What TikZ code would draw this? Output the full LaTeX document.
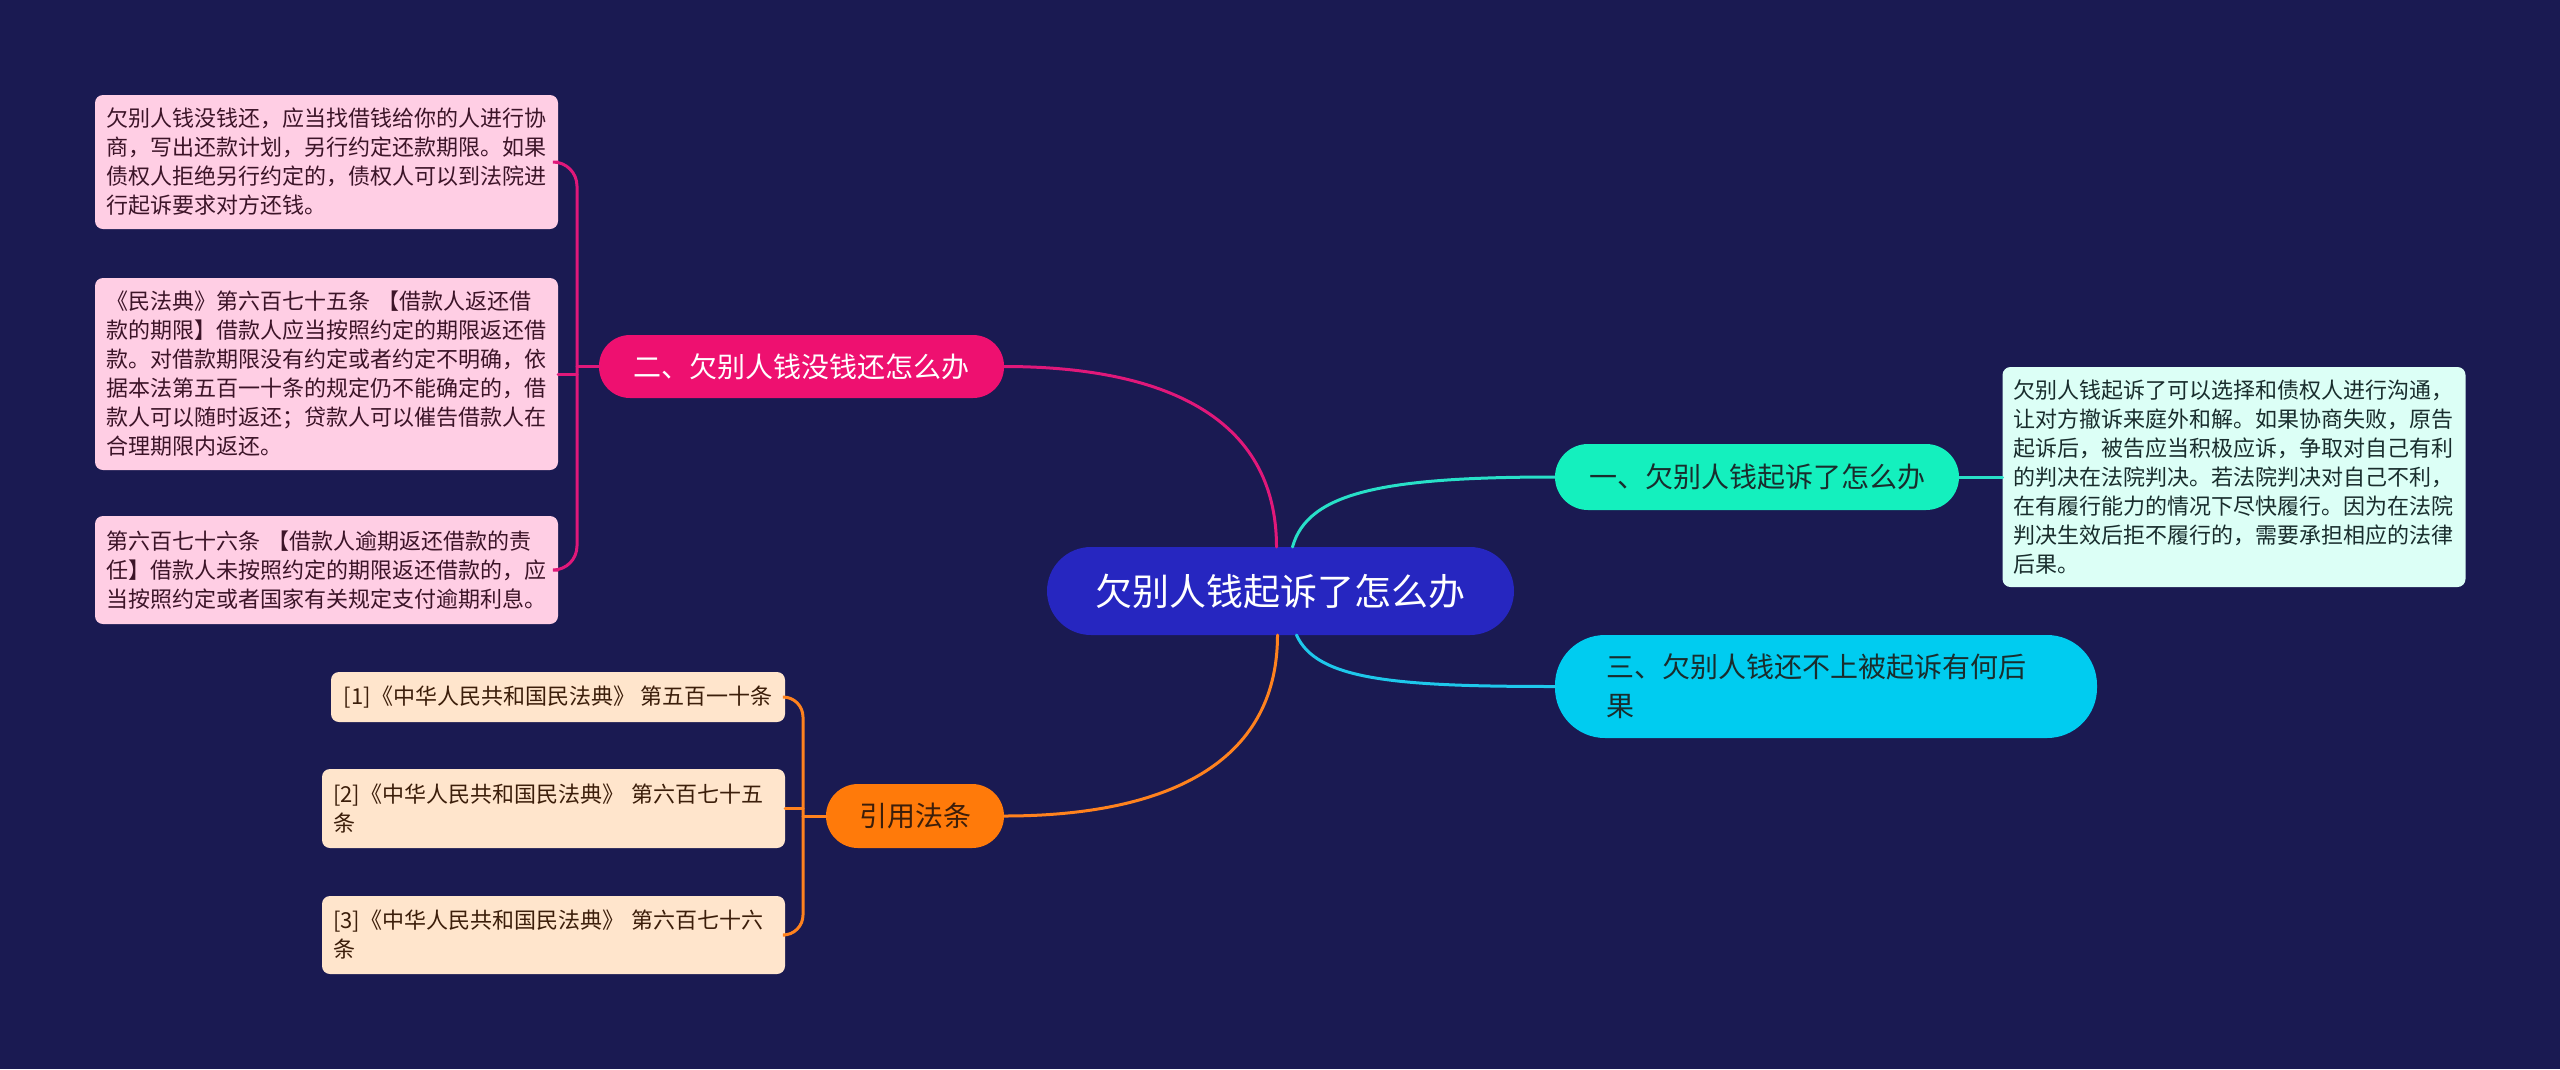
\documentclass[tikz,border=0pt]{standalone}
\usepackage{fontspec}
\setmainfont{Noto Sans CJK SC}
\definecolor{bg}{RGB}{26,26,82}
\definecolor{cMain}{RGB}{38,38,192}
\definecolor{cPink}{RGB}{238,16,112}
\definecolor{lPink}{RGB}{224,24,122}
\definecolor{bPink}{RGB}{255,206,228}
\definecolor{tPink}{RGB}{60,20,40}
\definecolor{cTeal}{RGB}{20,240,190}
\definecolor{lTeal}{RGB}{40,224,200}
\definecolor{bMint}{RGB}{220,255,246}
\definecolor{tDark}{RGB}{25,45,45}
\definecolor{cCyan}{RGB}{0,204,240}
\definecolor{lCyan}{RGB}{30,200,235}
\definecolor{cOrange}{RGB}{255,122,10}
\definecolor{lOrange}{RGB}{255,130,30}
\definecolor{bPeach}{RGB}{255,229,204}
\definecolor{tBrown}{RGB}{60,30,10}
\begin{document}
\begin{tikzpicture}[x=1pt,y=-1pt,
  every node/.style={inner sep=0pt, outer sep=0pt},
  bigfont/.style={font=\fontsize{37}{44}\selectfont},
  midfont/.style={font=\fontsize{28}{39}\selectfont},
  smallfont/.style={font=\fontsize{22}{29}\selectfont},
  textbox/.style={smallfont, rounded corners=8pt, align=left, inner xsep=11pt},
  conn/.style={line width=3pt, line cap=round},
]
\fill[bg] (0,0) rectangle (2560,1069);
\useasboundingbox (0,0) rectangle (2560,1069);

% main node
\node[fill=cMain, minimum width=467pt, minimum height=88pt, rounded corners=44pt, text=white, bigfont] (c) at (1280.5,591) {欠别人钱起诉了怎么办};

% first-level nodes
\node[fill=cTeal, minimum width=404pt, minimum height=66pt, rounded corners=33pt, text=tDark, midfont] (n1) at (1757,477) {一、欠别人钱起诉了怎么办};
\node[fill=cCyan, minimum width=542pt, minimum height=103pt, rounded corners=50pt, text=tDark, midfont, text width=440pt, align=left] (n3) at (1826,686.5) {三、欠别人钱还不上被起诉有何后\\果};
\node[fill=cPink, minimum width=405pt, minimum height=63pt, rounded corners=31pt, text=white, midfont] (n2) at (801.5,366.5) {二、欠别人钱没钱还怎么办};
\node[fill=cOrange, minimum width=178pt, minimum height=64pt, rounded corners=32pt, text=tBrown, midfont] (n4) at (915,816) {引用法条};

% detail right
\node[textbox, fill=bMint, text=tDark, text width=441pt, minimum height=220pt] (d1) at (2234,477) {欠别人钱起诉了可以选择和债权人进行沟通，\\让对方撤诉来庭外和解。如果协商失败，原告\\起诉后，被告应当积极应诉，争取对自己有利\\的判决在法院判决。若法院判决对自己不利，\\在有履行能力的情况下尽快履行。因为在法院\\判决生效后拒不履行的，需要承担相应的法律\\后果。};

% pink boxes
\node[textbox, fill=bPink, text=tPink, text width=441pt, minimum height=134pt] (p1) at (326.5,162) {欠别人钱没钱还，应当找借钱给你的人进行协\\商，写出还款计划，另行约定还款期限。如果\\债权人拒绝另行约定的，债权人可以到法院进\\行起诉要求对方还钱。};
\node[textbox, fill=bPink, text=tPink, text width=441pt, minimum height=192pt] (p2) at (326.5,374) {《民法典》第六百七十五条 【借款人返还借\\款的期限】借款人应当按照约定的期限返还借\\款。对借款期限没有约定或者约定不明确，依\\据本法第五百一十条的规定仍不能确定的，借\\款人可以随时返还；贷款人可以催告借款人在\\合理期限内返还。};
\node[textbox, fill=bPink, text=tPink, text width=441pt, minimum height=108pt] (p3) at (326.5,570) {第六百七十六条 【借款人逾期返还借款的责\\任】借款人未按照约定的期限返还借款的，应\\当按照约定或者国家有关规定支付逾期利息。};

% reference boxes
\node[smallfont, rounded corners=8pt, fill=bPeach, text=tBrown, minimum width=454pt, minimum height=50pt] (r1) at (558,697) {[1]《中华人民共和国民法典》 第五百一十条};
\node[textbox, fill=bPeach, text=tBrown, text width=441pt, minimum height=79pt] (r2) at (553.5,808.5) {[2]《中华人民共和国民法典》 第六百七十五\\条};
\node[textbox, fill=bPeach, text=tBrown, text width=441pt, minimum height=78pt] (r3) at (553.5,935) {[3]《中华人民共和国民法典》 第六百七十六\\条};

% connectors from main
\draw[conn, lPink] ([xshift=-4pt]c.north) .. controls +(0,-130) and +(160,0) .. (n2.east);
\draw[conn, lTeal] ([xshift=12pt]c.north) .. controls +(15,-55) and +(-170,0) .. (n1.west);
\draw[conn, lCyan] ([xshift=16pt]c.south) .. controls +(20,45) and +(-160,0) .. (n3.west);
\draw[conn, lOrange] ([xshift=-3pt]c.south) .. controls +(0,130) and +(160,0) .. (n4.east);

% teal to detail
\draw[conn, lTeal] (n1.east) -- (d1.west);

% pink bracket
\coordinate (pb) at (577,366.5);
\draw[conn, lPink] (n2.west) -- (pb);
\draw[conn, lPink, rounded corners=24pt] (p1.east) -| (pb) |- (p3.east);
\draw[conn, lPink] (p2.east) -- (p2.east -| pb);

% orange bracket
\coordinate (ob) at (803,816);
\draw[conn, lOrange] (n4.west) -- (ob);
\draw[conn, lOrange, rounded corners=20pt] (r1.east) -| (ob) |- (r3.east);
\draw[conn, lOrange] (r2.east) -- (r2.east -| ob);
\end{tikzpicture}
\end{document}
